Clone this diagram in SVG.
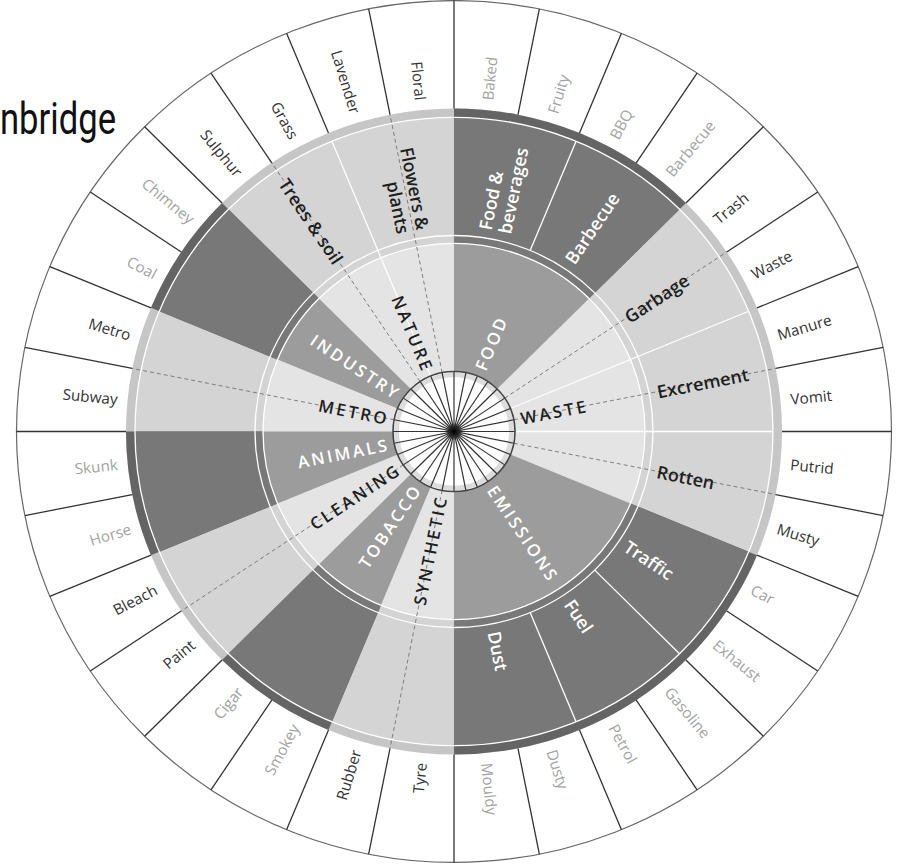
<svg xmlns="http://www.w3.org/2000/svg" width="899" height="865" viewBox="0 0 899 865">
<style>
.ol{font-family:"Open Sans","DejaVu Sans",sans-serif;font-size:15.3px;dominant-baseline:central}
.ok{fill:#333}
.og{fill:#a3a3a3}
.ml{font-family:"Open Sans","DejaVu Sans",sans-serif;font-size:18px;font-weight:600;dominant-baseline:central}
.il{font-family:"Open Sans","DejaVu Sans",sans-serif;font-size:17px;font-weight:600;letter-spacing:2.6px;dominant-baseline:central}
.dk{fill:#1e1e1e}
.wt{fill:#ffffff}
.div line,.div use{stroke:#333;stroke-width:1.3}
.wl{stroke:#fff;stroke-width:1.3;fill:none}
.dash line{stroke:#6e6e6e;stroke-width:0.8;stroke-dasharray:4 3}
.spk line{stroke:#333;stroke-width:1.2}
.st{text-anchor:start}
.en{text-anchor:end}
</style>
<defs>
<path id="s22" d="M0,0 L0,-1 A1,1 0 0,1 0.382683,-0.92388 Z"/>
<path id="s45" d="M0,0 L0,-1 A1,1 0 0,1 0.707107,-0.707107 Z"/>
<path id="s67" d="M0,0 L0,-1 A1,1 0 0,1 0.92388,-0.382683 Z"/>
<line id="dv" x1="0" y1="-328" x2="0" y2="-437.5"/>
<radialGradient id="hubc"><stop offset="0" stop-color="#000"/><stop offset="0.5" stop-color="#222"/><stop offset="1" stop-color="#222" stop-opacity="0"/></radialGradient>
</defs>
<text id="title" x="0" y="134" font-family="Roboto,'Liberation Sans',sans-serif" font-size="45" textLength="116" lengthAdjust="spacingAndGlyphs" fill="#111">nbridge</text>
<g id="wheel" transform="translate(454,431.5) scale(1,0.985)">
<g id="rings">
<circle r="437.5" fill="#fff" stroke="#666" stroke-width="1.2"/>
<circle r="328" fill="#c6c6c6"/>
<circle r="319" fill="#d4d4d4"/>
<g fill="#646464">
<use href="#s45" transform="scale(328)"/>
<use href="#s67" transform="rotate(112.5) scale(328)"/>
<use href="#s22" transform="rotate(202.5) scale(328)"/>
<use href="#s22" transform="rotate(247.5) scale(328)"/>
<use href="#s22" transform="rotate(292.5) scale(328)"/>
</g>
<g fill="#787878">
<use href="#s45" transform="scale(319)"/>
<use href="#s67" transform="rotate(112.5) scale(319)"/>
<use href="#s22" transform="rotate(202.5) scale(319)"/>
<use href="#s22" transform="rotate(247.5) scale(319)"/>
<use href="#s22" transform="rotate(292.5) scale(319)"/>
</g>
<circle r="319" class="wl"/>
<circle r="199" class="wl"/>
<circle r="191" fill="#e4e4e4"/>
<g fill="#9c9c9c">
<use href="#s45" transform="scale(191)"/>
<use href="#s67" transform="rotate(112.5) scale(191)"/>
<use href="#s22" transform="rotate(202.5) scale(191)"/>
<use href="#s22" transform="rotate(247.5) scale(191)"/>
<use href="#s22" transform="rotate(292.5) scale(191)"/>
</g>
<circle r="191" class="wl"/>
</g>
<g id="connectors">
<g class="wl">
<line x1="0" y1="-199" x2="0" y2="-319" transform="rotate(22.5)"/>
<line x1="0" y1="-61" x2="0" y2="-319" transform="rotate(67.5)"/>
<line x1="0" y1="-61" x2="0" y2="-319" transform="rotate(90)"/>
<line x1="0" y1="-199" x2="0" y2="-319" transform="rotate(135)"/>
<line x1="0" y1="-199" x2="0" y2="-319" transform="rotate(157.5)"/>
<line x1="0" y1="-61" x2="0" y2="-319" transform="rotate(337.5)"/>
</g>
<g class="dash">
<line x1="0" y1="-61" x2="0" y2="-328" transform="rotate(56.25)"/>
<line x1="0" y1="-61" x2="0" y2="-328" transform="rotate(78.75)"/>
<line x1="0" y1="-61" x2="0" y2="-328" transform="rotate(101.25)"/>
<line x1="0" y1="-61" x2="0" y2="-328" transform="rotate(191.25)"/>
<line x1="0" y1="-61" x2="0" y2="-328" transform="rotate(236.25)"/>
<line x1="0" y1="-61" x2="0" y2="-328" transform="rotate(281.25)"/>
<line x1="0" y1="-61" x2="0" y2="-328" transform="rotate(326.25)"/>
<line x1="0" y1="-61" x2="0" y2="-328" transform="rotate(348.75)"/>
</g>
<g class="div">
<use href="#dv"/>
<use href="#dv" transform="rotate(11.25)"/>
<use href="#dv" transform="rotate(22.5)"/>
<use href="#dv" transform="rotate(33.75)"/>
<use href="#dv" transform="rotate(45)"/>
<use href="#dv" transform="rotate(56.25)"/>
<use href="#dv" transform="rotate(67.5)"/>
<use href="#dv" transform="rotate(78.75)"/>
<use href="#dv" transform="rotate(90)"/>
<use href="#dv" transform="rotate(101.25)"/>
<use href="#dv" transform="rotate(112.5)"/>
<use href="#dv" transform="rotate(123.75)"/>
<use href="#dv" transform="rotate(135)"/>
<use href="#dv" transform="rotate(146.25)"/>
<use href="#dv" transform="rotate(157.5)"/>
<use href="#dv" transform="rotate(168.75)"/>
<use href="#dv" transform="rotate(180)"/>
<use href="#dv" transform="rotate(191.25)"/>
<use href="#dv" transform="rotate(202.5)"/>
<use href="#dv" transform="rotate(213.75)"/>
<use href="#dv" transform="rotate(225)"/>
<use href="#dv" transform="rotate(236.25)"/>
<use href="#dv" transform="rotate(247.5)"/>
<use href="#dv" transform="rotate(258.75)"/>
<use href="#dv" transform="rotate(270)"/>
<use href="#dv" transform="rotate(281.25)"/>
<use href="#dv" transform="rotate(292.5)"/>
<use href="#dv" transform="rotate(303.75)"/>
<use href="#dv" transform="rotate(315)"/>
<use href="#dv" transform="rotate(326.25)"/>
<use href="#dv" transform="rotate(337.5)"/>
<use href="#dv" transform="rotate(348.75)"/>
</g>
</g>
<g id="hub">
<circle r="61" fill="#fff"/>
<circle r="57.5" fill="none" stroke="#dcdcdc" stroke-width="5"/>
<g class="spk">
<line y1="-61" y2="61"/>
<line y1="-61" y2="61" transform="rotate(11.25)"/>
<line y1="-61" y2="61" transform="rotate(22.5)"/>
<line y1="-61" y2="61" transform="rotate(33.75)"/>
<line y1="-61" y2="61" transform="rotate(45)"/>
<line y1="-61" y2="61" transform="rotate(56.25)"/>
<line y1="-61" y2="61" transform="rotate(67.5)"/>
<line y1="-61" y2="61" transform="rotate(78.75)"/>
<line y1="-61" y2="61" transform="rotate(90)"/>
<line y1="-61" y2="61" transform="rotate(101.25)"/>
<line y1="-61" y2="61" transform="rotate(112.5)"/>
<line y1="-61" y2="61" transform="rotate(123.75)"/>
<line y1="-61" y2="61" transform="rotate(135)"/>
<line y1="-61" y2="61" transform="rotate(146.25)"/>
<line y1="-61" y2="61" transform="rotate(157.5)"/>
<line y1="-61" y2="61" transform="rotate(168.75)"/>
</g>
<circle r="61" fill="none" stroke="#444" stroke-width="1.6"/>
<circle r="9" fill="url(#hubc)"/>
</g>
<g id="outer-labels" class="ol">
<text class="st og" x="338" transform="rotate(-84.375)">Baked</text>
<text class="st og" x="338" transform="rotate(-73.125)">Fruity</text>
<text class="st og" x="338" transform="rotate(-61.875)">BBQ</text>
<text class="st og" x="338" transform="rotate(-50.625)">Barbecue</text>
<text class="st ok" x="338" transform="rotate(-39.375)">Trash</text>
<text class="st ok" x="338" transform="rotate(-28.125)">Waste</text>
<text class="st ok" x="338" transform="rotate(-16.875)">Manure</text>
<text class="st ok" x="338" transform="rotate(-5.625)">Vomit</text>
<text class="st ok" x="338" transform="rotate(5.625)">Putrid</text>
<text class="st ok" x="338" transform="rotate(16.875)">Musty</text>
<text class="st og" x="338" transform="rotate(28.125)">Car</text>
<text class="st og" x="338" transform="rotate(39.375)">Exhaust</text>
<text class="st og" x="338" transform="rotate(50.625)">Gasoline</text>
<text class="st og" x="338" transform="rotate(61.875)">Petrol</text>
<text class="st og" x="338" transform="rotate(73.125)">Dusty</text>
<text class="st og" x="338" transform="rotate(84.375)">Mouldy</text>
<text class="en ok" x="-338" transform="rotate(-84.375)">Tyre</text>
<text class="en ok" x="-338" transform="rotate(-73.125)">Rubber</text>
<text class="en og" x="-338" transform="rotate(-61.875)">Smokey</text>
<text class="en og" x="-338" transform="rotate(-50.625)">Cigar</text>
<text class="en ok" x="-338" transform="rotate(-39.375)">Paint</text>
<text class="en ok" x="-338" transform="rotate(-28.125)">Bleach</text>
<text class="en og" x="-338" transform="rotate(-16.875)">Horse</text>
<text class="en og" x="-338" transform="rotate(-5.625)">Skunk</text>
<text class="en ok" x="-338" transform="rotate(5.625)">Subway</text>
<text class="en ok" x="-338" transform="rotate(16.875)">Metro</text>
<text class="en og" x="-338" transform="rotate(28.125)">Coal</text>
<text class="en og" x="-338" transform="rotate(39.375)">Chimney</text>
<text class="en ok" x="-338" transform="rotate(50.625)">Sulphur</text>
<text class="en ok" x="-338" transform="rotate(61.875)">Grass</text>
<text class="en ok" x="-338" transform="rotate(73.125)">Lavender</text>
<text class="en ok" x="-338" transform="rotate(84.375)">Floral</text>
</g>
<g id="middle-labels" class="ml">
<g id="food-beverages" transform="rotate(-78.75)"><text class="st wt" x="207" y="-10">Food &amp;</text><text class="st wt" x="207" y="10">beverages</text></g>
<text id="barbecue" class="st wt" x="207" transform="rotate(-56.25)">Barbecue</text>
<text id="garbage" class="st dk" x="207" transform="rotate(-33.75)">Garbage</text>
<text id="excrement" class="st dk" x="207" transform="rotate(-11.25)">Excrement</text>
<text id="rotten" class="st dk" x="207" transform="rotate(11.25)">Rotten</text>
<text id="traffic" class="st wt" x="207" transform="rotate(33.75)">Traffic</text>
<text id="fuel" class="st wt" x="207" transform="rotate(56.25)">Fuel</text>
<text id="dust" class="st wt" x="207" transform="rotate(78.75)">Dust</text>
<text id="trees-soil" class="en dk" x="-207" transform="rotate(56.25)">Trees &amp; soil</text>
<g id="flowers-plants" transform="rotate(78.75)"><text class="en dk" x="-207" y="-10">Flowers &amp;</text><text class="en dk" x="-207" y="10">plants</text></g>
</g>
<g id="inner-labels" class="il">
<text id="food" class="st wt" x="68" transform="rotate(-67.5)">FOOD</text>
<text id="waste" class="st dk" x="68" transform="rotate(-11.25)">WASTE</text>
<text id="emissions" class="st wt" x="68" transform="rotate(56.25)">EMISSIONS</text>
<text id="synthetic" class="en dk" x="-66" transform="rotate(-78.75)">SYNTHETIC</text>
<text id="tobacco" class="en wt" x="-66" transform="rotate(-56.25)">TOBACCO</text>
<text id="cleaning" class="en dk" x="-66" transform="rotate(-33.75)">CLEANING</text>
<text id="animals" class="en wt" x="-66" transform="rotate(-11.25)">ANIMALS</text>
<text id="metro" class="en dk" x="-66" transform="rotate(11.25)">METRO</text>
<text id="industry" class="en wt" x="-66" transform="rotate(33.75)">INDUSTRY</text>
<text id="nature" class="en dk" x="-66" transform="rotate(67.5)">NATURE</text>
</g>
</g>
</svg>
